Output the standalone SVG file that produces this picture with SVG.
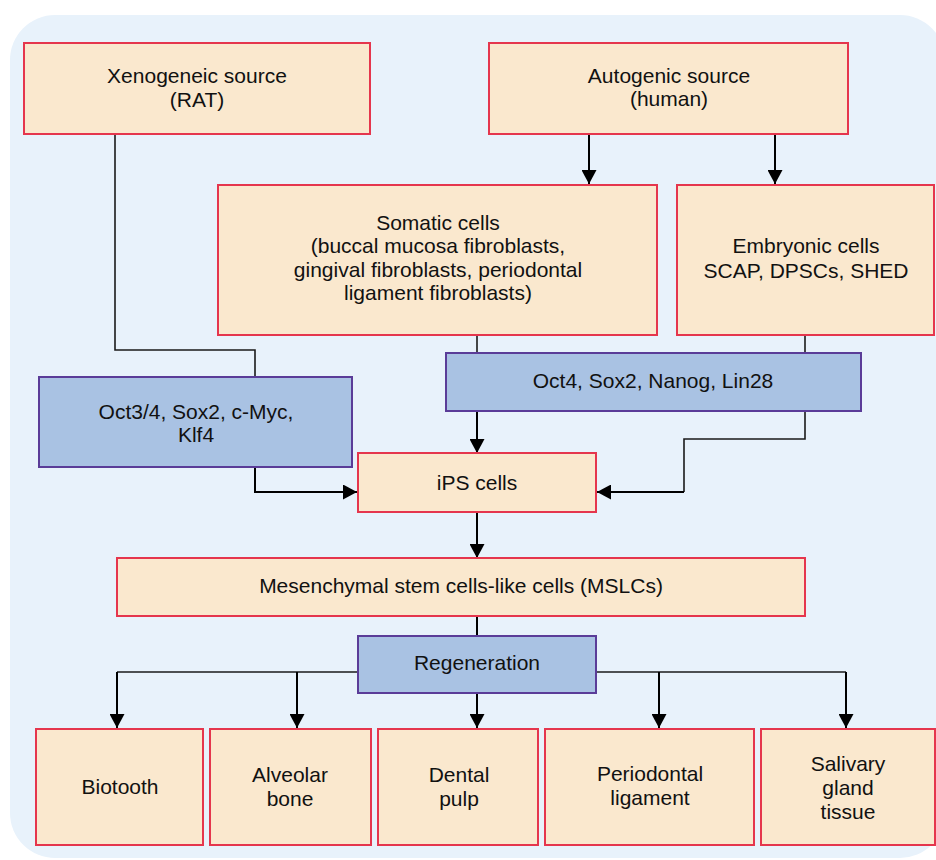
<svg xmlns="http://www.w3.org/2000/svg" width="936" height="860" viewBox="0 0 936 860">
<style>
.bg{fill:#E8F2FB}
.box{fill:#FAE8CE;stroke:#E5364D;stroke-width:2}
.blue{fill:#A9C2E3;stroke:#5A3C98;stroke-width:2}
text{font-family:"Liberation Sans",Arial,sans-serif;font-size:21px;fill:#111;text-anchor:middle}
.c{fill:none;stroke:#000;stroke-width:2}
.t{fill:none;stroke:#1a1a1a;stroke-width:1.6}
</style>
<defs>
<marker id="ah" markerUnits="userSpaceOnUse" markerWidth="15" markerHeight="15" viewBox="0 0 15 15" refX="14" refY="7.5" orient="auto"><path d="M0,0 L14,7.5 L0,15 z" fill="#000"/></marker>
</defs>
<rect class="bg" x="10" y="15" width="935" height="843" rx="45"/>
<g id="connectors">
<path class="t" d="M115,135 V350 H255 V377"/>
<path class="c" d="M589,135 V184" marker-end="url(#ah)"/>
<path class="c" d="M775,135 V184" marker-end="url(#ah)"/>
<path class="t" d="M477,335 V353"/>
<path class="t" d="M805,335 V353"/>
<path class="c" d="M477,411 V453" marker-end="url(#ah)"/>
<path class="t" d="M805,411 V439 H684 V492"/>
<path class="c" d="M684,492 H597" marker-end="url(#ah)"/>
<path class="c" d="M255,467 V492 H357" marker-end="url(#ah)"/>
<path class="c" d="M477,512 V558" marker-end="url(#ah)"/>
<path class="c" d="M477,616 V636"/>
<path class="t" d="M358,672 H117"/>
<path class="t" d="M596,672 H846"/>
<path class="c" d="M117,672 V728" marker-end="url(#ah)"/>
<path class="c" d="M297,672 V728" marker-end="url(#ah)"/>
<path class="c" d="M477,693 V728" marker-end="url(#ah)"/>
<path class="c" d="M659,672 V728" marker-end="url(#ah)"/>
<path class="c" d="M846,672 V728" marker-end="url(#ah)"/>
</g>
<g id="xeno"><rect class="box" x="24" y="43" width="346" height="91"/><text x="197" y="83">Xenogeneic source</text><text x="197" y="107">(RAT)</text></g>
<g id="auto"><rect class="box" x="489" y="43" width="359" height="91"/><text x="669" y="83">Autogenic source</text><text x="669" y="106">(human)</text></g>
<g id="somatic"><rect class="box" x="218" y="185" width="439" height="150"/><text x="438" y="230">Somatic cells</text><text x="438" y="253">(buccal mucosa fibroblasts,</text><text x="438" y="277">gingival fibroblasts, periodontal</text><text x="438" y="300">ligament fibroblasts)</text></g>
<g id="embryonic"><rect class="box" x="677" y="185" width="257" height="150"/><text x="806" y="253">Embryonic cells</text><text x="806" y="278">SCAP, DPSCs, SHED</text></g>
<g id="factors1"><rect class="blue" x="39" y="377" width="313" height="90"/><text x="196" y="419">Oct3/4, Sox2, c-Myc,</text><text x="196" y="442">Klf4</text></g>
<g id="factors2"><rect class="blue" x="446" y="353" width="415" height="58"/><text x="653" y="388">Oct4, Sox2, Nanog, Lin28</text></g>
<g id="ips"><rect class="box" x="358" y="453" width="238" height="59"/><text x="477" y="490">iPS cells</text></g>
<g id="mslc"><rect class="box" x="117" y="558" width="688" height="58"/><text x="461" y="593">Mesenchymal stem cells-like cells (MSLCs)</text></g>
<g id="regeneration"><rect class="blue" x="358" y="636" width="238" height="57"/><text x="477" y="670">Regeneration</text></g>
<g id="biotooth"><rect class="box" x="36" y="729" width="167" height="116"/><text x="120" y="794">Biotooth</text></g>
<g id="alveolar"><rect class="box" x="210" y="729" width="161" height="116"/><text x="290" y="782">Alveolar</text><text x="290" y="806">bone</text></g>
<g id="dental"><rect class="box" x="378" y="729" width="160" height="116"/><text x="459" y="782">Dental</text><text x="459" y="806">pulp</text></g>
<g id="periodontal"><rect class="box" x="545" y="729" width="209" height="116"/><text x="650" y="781">Periodontal</text><text x="650" y="805">ligament</text></g>
<g id="salivary"><rect class="box" x="761" y="729" width="174" height="116"/><text x="848" y="771">Salivary</text><text x="848" y="795">gland</text><text x="848" y="819">tissue</text></g>
</svg>
